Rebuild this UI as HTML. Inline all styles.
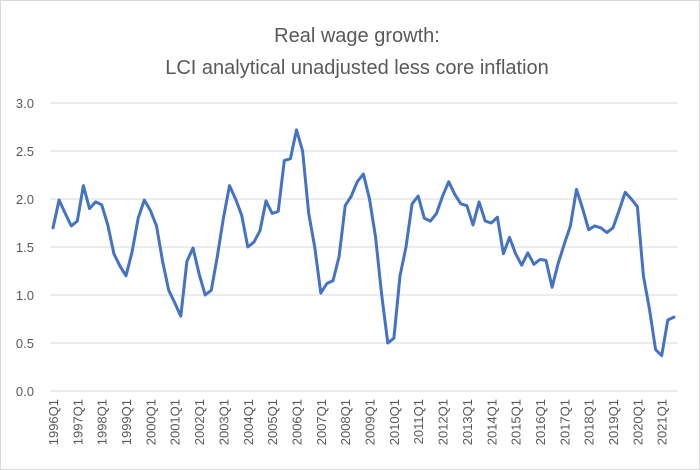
<!DOCTYPE html>
<html><head><meta charset="utf-8"><style>
html,body{margin:0;padding:0;background:#fff;}
svg{display:block;font-family:"Liberation Sans",sans-serif;}
</style></head><body>
<svg id="s" width="700" height="470" viewBox="0 0 700 470" xmlns="http://www.w3.org/2000/svg">
<rect x="0.5" y="0.5" width="699" height="469" fill="#fff" stroke="#d9d9d9"/>
<text x="357" y="42" text-anchor="middle" font-size="20" fill="#595959">Real wage growth:</text>
<text x="357" y="74" text-anchor="middle" font-size="20" fill="#595959">LCI analytical unadjusted less core inflation</text>
<g id="g"></g>
</svg>
<script>
var v=[1.70,1.99,1.85,1.72,1.77,2.14,1.90,1.97,1.94,1.73,1.43,1.30,1.20,1.45,1.80,1.99,1.88,1.72,1.35,1.05,0.92,0.78,1.35,1.49,1.22,1.00,1.05,1.40,1.80,2.14,2.00,1.83,1.50,1.55,1.67,1.98,1.85,1.87,2.40,2.42,2.72,2.50,1.85,1.50,1.02,1.12,1.15,1.40,1.93,2.03,2.18,2.26,2.00,1.60,1.00,0.50,0.55,1.20,1.50,1.95,2.03,1.80,1.77,1.85,2.03,2.18,2.05,1.95,1.93,1.73,1.97,1.77,1.75,1.81,1.43,1.60,1.43,1.31,1.44,1.32,1.37,1.36,1.08,1.33,1.53,1.72,2.10,1.90,1.68,1.72,1.70,1.65,1.70,1.88,2.07,2.00,1.92,1.20,0.85,0.43,0.37,0.74,0.77];
var h='';
for(var i=0;i<=6;i++){var y=391-i*48;h+='<line x1="50" x2="678" y1="'+y+'" y2="'+y+'" stroke="#d9d9d9" stroke-width="1"/>';
h+='<text x="34" y="'+(y+5)+'" text-anchor="end" font-size="13" fill="#595959">'+(i*0.5).toFixed(1)+'</text>';}
for(var k=0;k<26;k++){var x=53+k*4*6.087;h+='<text transform="translate('+(x+5)+',399) rotate(-90)" text-anchor="end" font-size="13" fill="#595959">'+(1996+k)+'Q1</text>';}
var p=v.map(function(d,i){return (53+i*6.087).toFixed(1)+','+(391-d*96).toFixed(1)}).join(' ');
h+='<polyline points="'+p+'" fill="none" stroke="#4472c4" stroke-width="3" stroke-linejoin="round" stroke-linecap="round"/>';
document.getElementById('g').innerHTML=h;
</script>
</body></html>
